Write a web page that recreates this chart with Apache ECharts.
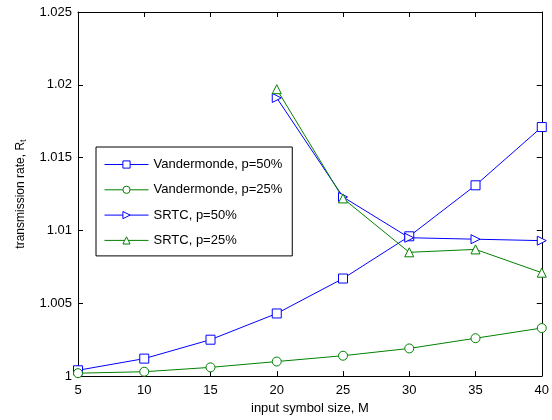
<!DOCTYPE html>
<html><head><meta charset="utf-8">
<script src="https://cdn.jsdelivr.net/npm/echarts@6/dist/echarts.min.js"></script>
<style>html,body{margin:0;padding:0;background:#fff}#c{width:552px;height:420px}</style>
</head><body><div id="c"></div>
<script>
const xValues = [5, 10, 15, 20, 25, 30, 35, 40];
const vand50 = [1.0004, 1.0012, 1.0025, 1.0043, 1.0067, 1.0096, 1.0131, 1.0171];
const vand25 = [1.0002, 1.0003, 1.0006, 1.0010, 1.0014, 1.0019, 1.0026, 1.0033];
const srtcX = [20, 25, 30, 35, 40];
const srtc50 = [1.0191, 1.0123, 1.0095, 1.0094, 1.0093];
const srtc25 = [1.0197, 1.0122, 1.0085, 1.0087, 1.0071];
const seriesNames = ['Vandermonde, p=50%', 'Vandermonde, p=25%', 'SRTC, p=50%', 'SRTC, p=25%'];
const xTicks = [5, 10, 15, 20, 25, 30, 35, 40];
const yTicks = [1, 1.005, 1.01, 1.015, 1.02, 1.025];

const blue = '#0000ff', green = '#008000';
const font = 'Liberation Sans, Arial, sans-serif';
function pairs(xs, ys){ return xs.map((x,i)=>[x, ys[i]]); }
function mk(name, xs, ys, color, symbol, rot){
  return {name, type:'line', data: pairs(xs, ys), symbol, symbolSize: 9, symbolRotate: rot||0,
    showAllSymbol: true, color,
    lineStyle:{color, width:1}, itemStyle:{color:'#fff', borderColor: color, borderWidth:1},
    emphasis:{disabled:true}};
}
const chart = echarts.init(document.getElementById('c'), null, {renderer:'canvas'});
const axisCommon = {
  axisLine:{show:true, onZero:false, lineStyle:{color:'#000', width:1}},
  axisTick:{show:true, inside:true, length:5, lineStyle:{color:'#000'}},
  splitLine:{show:false}
};
chart.setOption({
  animation:false,
  grid:{left:78, right:8, top:12, bottom:42, containLabel:false},
  xAxis:[
    Object.assign({type:'value', min:5, max:40, interval:5, position:'bottom',
      name:'input symbol size, M', nameLocation:'middle', nameGap:24,
      nameTextStyle:{fontFamily:font, fontSize:13, color:'#000'},
      axisLabel:{fontFamily:font, fontSize:13, color:'#000', margin:8}}, axisCommon),
    Object.assign({type:'value', min:5, max:40, interval:5, position:'top',
      axisLabel:{show:false}}, axisCommon)
  ],
  yAxis:[
    Object.assign({type:'value', min:1, max:1.025, interval:0.005, position:'left',
      name:'transmission rate, R{s|t}', nameLocation:'middle', nameGap:50,
      nameTextStyle:{fontFamily:font, fontSize:12, color:'#000', rich:{s:{fontSize:9, verticalAlign:'bottom', fontFamily:font, padding:[6,0,0,0]}}},
      axisLabel:{fontFamily:font, fontSize:13, color:'#000', margin:6,
        formatter: v => String(parseFloat(v.toFixed(3)))}}, axisCommon),
    Object.assign({type:'value', min:1, max:1.025, interval:0.005, position:'right',
      axisLabel:{show:false}}, axisCommon)
  ],
  legend:{orient:'vertical', left:96, top:147, width:198, padding:[11,10,9,8], itemGap:12.3,
    itemWidth:44, itemHeight:9, backgroundColor:'#fff', borderColor:'#000', borderWidth:1,
    lineStyle:{width:1}, itemStyle:{borderWidth:1},
    textStyle:{fontFamily:font, fontSize:13, color:'#000'},
    data: seriesNames, selectedMode:false},
  series:[
    mk(seriesNames[0], xValues, vand50, blue, 'rect'),
    mk(seriesNames[1], xValues, vand25, green, 'circle'),
    mk(seriesNames[2], srtcX, srtc50, blue, 'triangle', -90),
    mk(seriesNames[3], srtcX, srtc25, green, 'triangle')
  ]
});
</script></body></html>
